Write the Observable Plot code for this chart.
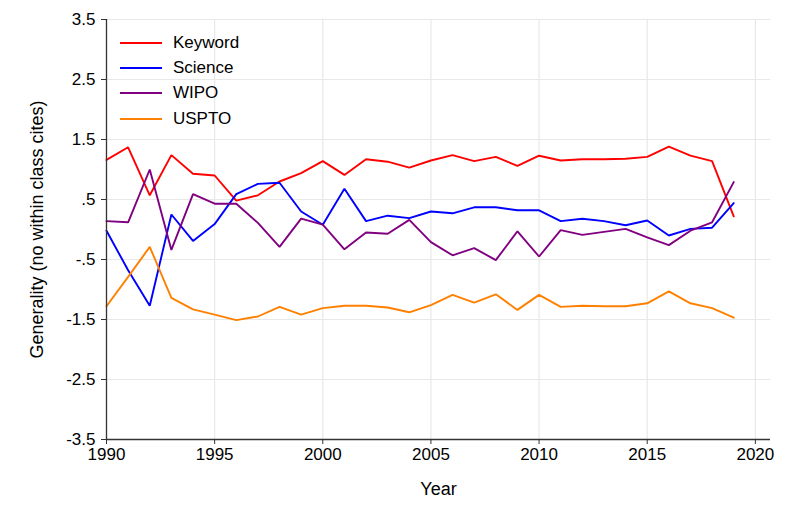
<!DOCTYPE html>
<html>
<head>
<meta charset="utf-8">
<script src="https://cdn.jsdelivr.net/npm/d3@7"></script>
<script src="https://cdn.jsdelivr.net/npm/@observablehq/plot@0.6"></script>
<style>
  html, body { margin: 0; padding: 0; background: #fff; }
  #wrap { position: relative; width: 789px; height: 526px; font-family: "Liberation Sans", Arial, Helvetica, sans-serif; }
  #legend { position: absolute; left: 120px; top: 30px; font-size: 17px; color: #000; }
  #legend .row { display: flex; align-items: center; height: 25.3px; }
  #legend .sw { width: 42px; height: 2px; margin-right: 11px; }
</style>
</head>
<body>
<div id="wrap"><div id="legend"></div></div>
<script>
const years = d3.range(1990, 2020);
const keyword = [1.16, 1.37, 0.57, 1.24, 0.93, 0.90, 0.48, 0.57, 0.80, 0.94,
                 1.14, 0.91, 1.17, 1.13, 1.03, 1.15, 1.24, 1.14, 1.21, 1.06,
                 1.23, 1.15, 1.17, 1.17, 1.18, 1.21, 1.38, 1.23, 1.14, 0.22];
const science = [-0.02, -0.68, -1.27, 0.25, -0.19, 0.09, 0.59, 0.76, 0.78, 0.30,
                 0.08, 0.68, 0.14, 0.23, 0.19, 0.30, 0.27, 0.37, 0.37, 0.32,
                 0.32, 0.14, 0.18, 0.14, 0.07, 0.15, -0.10, 0.01, 0.03, 0.44];
const wipo = [0.14, 0.12, 1.00, -0.34, 0.59, 0.43, 0.43, 0.11, -0.29, 0.18,
              0.08, -0.33, -0.05, -0.07, 0.16, -0.21, -0.43, -0.31, -0.51, -0.03,
              -0.45, -0.01, -0.09, -0.04, 0.01, -0.13, -0.26, -0.02, 0.12, 0.79];
const uspto = [-1.28, -0.79, -0.29, -1.14, -1.33, -1.42, -1.51, -1.45, -1.29, -1.42,
               -1.31, -1.27, -1.27, -1.30, -1.38, -1.26, -1.09, -1.22, -1.08, -1.34,
               -1.09, -1.29, -1.27, -1.28, -1.28, -1.23, -1.03, -1.23, -1.31, -1.47];
const seriesNames = ["Keyword", "Science", "WIPO", "USPTO"];
const seriesColors = ["#ff0000", "#0000ff", "#800080", "#ff8000"];
const yTicks = [3.5, 2.5, 1.5, 0.5, -0.5, -1.5, -2.5, -3.5];
const yTickLabels = ["3.5", "2.5", "1.5", ".5", "-.5", "-1.5", "-2.5", "-3.5"];
const xTicks = [1990, 1995, 2000, 2005, 2010, 2015, 2020];

const allSeries = [keyword, science, wipo, uspto];
const data = [];
seriesNames.forEach((name, i) => {
  years.forEach((yr, j) => data.push({ year: yr, value: allSeries[i][j], series: name }));
});

const font = '"Liberation Sans", Arial, Helvetica, sans-serif';
const chart = Plot.plot({
  width: 789,
  height: 526,
  marginLeft: 106,
  marginRight: 19,
  marginTop: 19,
  marginBottom: 87,
  style: { fontFamily: font, fontSize: "17px", color: "#000", background: "#fff" },
  x: { domain: [1990, 2020.7], label: null },
  y: { domain: [-3.5, 3.5], label: null },
  color: { domain: seriesNames, range: seriesColors },
  marks: [
    Plot.ruleY(yTicks, { stroke: "#e8e8e8", strokeWidth: 1.2 }),
    Plot.ruleX(xTicks.slice(1), { stroke: "#e8e8e8", strokeWidth: 1.2 }),
    Plot.line(data, { x: "year", y: "value", z: "series", stroke: "series", strokeWidth: 1.9, strokeLinejoin: "miter" }),
    Plot.axisY(yTicks, { tickSize: 5, tickPadding: 6, tickFormat: (d) => yTickLabels[yTicks.indexOf(d)], stroke: "#333", fontSize: 17 }),
    Plot.axisX(xTicks, { tickSize: 5, tickPadding: 3, tickFormat: (d) => String(d), stroke: "#333", fontSize: 17, label: null }),
    Plot.ruleY([-3.5], { stroke: "#333", strokeWidth: 1.3 }),
    Plot.ruleX([1990], { stroke: "#333", strokeWidth: 1.3 }),
    Plot.text(["Year"], { frameAnchor: "bottom", dy: 55, fontSize: 18, fill: "#000" }),
    Plot.text(["Generality (no within class cites)"], { frameAnchor: "left", textAnchor: "middle", dx: -69, rotate: -90, fontSize: 18, fill: "#000" })
  ]
});
document.getElementById("wrap").prepend(chart);

const legend = document.getElementById("legend");
seriesNames.forEach((name, i) => {
  const row = document.createElement("div");
  row.className = "row";
  const sw = document.createElement("div");
  sw.className = "sw";
  sw.style.background = seriesColors[i];
  const lab = document.createElement("span");
  lab.textContent = name;
  row.appendChild(sw);
  row.appendChild(lab);
  legend.appendChild(row);
});
</script>
</body>
</html>
